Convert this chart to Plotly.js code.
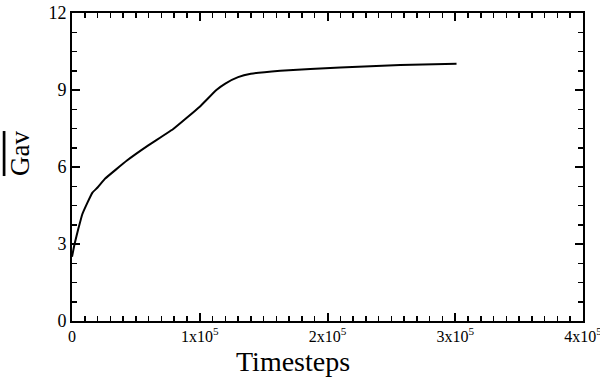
<!DOCTYPE html>
<html>
<head>
<meta charset="utf-8">
<script src="https://cdn.plot.ly/plotly-3.0.1.min.js"></script>
<style>
  body { margin: 0; background: #fff; }
  #plot { width: 600px; height: 380px; }
</style>
</head>
<body>
<div id="plot"></div>
<script>
// timesteps and averaged G
const steps = [0, 2000, 5000, 8000, 12000, 16000, 20000, 26000, 43000, 60000, 79000,
  100000, 113000, 120000, 130000, 140000, 163000, 210000, 257000, 301000];
const gav = [2.5, 3.0, 3.6, 4.15, 4.6, 5.0, 5.2, 5.55, 6.25, 6.85, 7.47,
  8.35, 9.0, 9.25, 9.5, 9.63, 9.75, 9.88, 9.97, 10.02];

const xTickVals = [0, 100000, 200000, 300000, 400000];
const xTickText = ['0', '1x10<sup>5</sup>', '2x10<sup>5</sup>', '3x10<sup>5</sup>', '4x10<sup>5</sup>'];

const trace = {
  x: steps,
  y: gav,
  type: 'scatter',
  mode: 'lines',
  line: { color: '#000', width: 2, shape: 'spline', smoothing: 0.3 },
  hoverinfo: 'skip'
};

const axisCommon = {
  showline: true,
  linecolor: '#000',
  linewidth: 2,
  mirror: 'ticks',
  ticks: 'inside',
  ticklen: 8,
  tickwidth: 2,
  tickcolor: '#000',
  showgrid: false,
  zeroline: false,
  ticklabeloverflow: 'allow'
};

const layout = {
  width: 600,
  height: 380,
  margin: { l: 72, r: 17, t: 13, b: 59 },
  paper_bgcolor: '#fff',
  plot_bgcolor: '#fff',
  showlegend: false,
  font: { family: 'Liberation Serif', color: '#000' },
  xaxis: Object.assign({}, axisCommon, {
    range: [0, 400000],
    tickmode: 'array',
    tickvals: xTickVals,
    ticktext: xTickText,
    tickfont: { family: 'Liberation Serif', size: 16, color: '#000' },
    minor: { dtick: 10000, ticks: 'inside', ticklen: 5, tickwidth: 1.5, tickcolor: '#000' }
  }),
  yaxis: Object.assign({}, axisCommon, {
    range: [0, 12],
    dtick: 3,
    tick0: 0,
    tickfont: { family: 'Liberation Serif', size: 18, color: '#000' },
    minor: { dtick: 0.75, ticks: 'inside', ticklen: 5, tickwidth: 1.5, tickcolor: '#000' }
  }),
  annotations: [{
    text: 'Timesteps',
    xref: 'paper', yref: 'paper',
    x: 0.432, y: -0.075,
    xanchor: 'center', yanchor: 'top',
    showarrow: false,
    font: { family: 'Liberation Serif', size: 28, color: '#000' }
  }, {
    text: '<span style="text-decoration:overline">Gav</span>',
    xref: 'paper', yref: 'paper',
    x: -0.102, y: 0.545,
    xanchor: 'center', yanchor: 'middle',
    textangle: -90,
    showarrow: false,
    font: { family: 'Liberation Serif', size: 27, color: '#000' }
  }]
};

Plotly.newPlot('plot', [trace], layout, { staticPlot: true });
</script>
</body>
</html>
